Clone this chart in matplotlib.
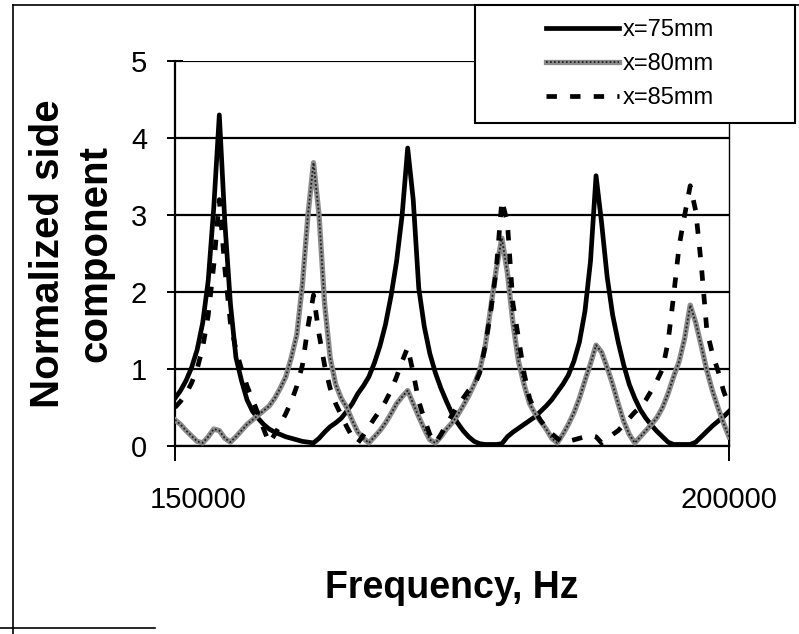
import matplotlib
matplotlib.use("Agg")
import matplotlib.pyplot as plt
import matplotlib.transforms as mtransforms
from matplotlib.patches import Rectangle
from matplotlib.lines import Line2D
from matplotlib.legend_handler import HandlerTuple
import numpy as np

plt.rcParams['font.family'] = ['Liberation Sans', 'DejaVu Sans']

# frequency grid, kHz steps of 0.5 (150 .. 200 kHz)
freq_khz = [150.0, 150.5, 151.0, 151.5, 152.0, 152.5, 153.0, 153.5, 154.0, 154.5,
            155.0, 155.5, 156.0, 156.5, 157.0, 157.5, 158.0, 158.5, 159.0, 159.5,
            160.0, 160.5, 161.0, 161.5, 162.0, 162.5, 163.0, 163.5, 164.0, 164.5,
            165.0, 165.5, 166.0, 166.5, 167.0, 167.5, 168.0, 168.5, 169.0, 169.5,
            170.0, 170.5, 171.0, 171.5, 172.0, 172.5, 173.0, 173.5, 174.0, 174.5,
            175.0, 175.5, 176.0, 176.5, 177.0, 177.5, 178.0, 178.5, 179.0, 179.5,
            180.0, 180.5, 181.0, 181.5, 182.0, 182.5, 183.0, 183.5, 184.0, 184.5,
            185.0, 185.5, 186.0, 186.5, 187.0, 187.5, 188.0, 188.5, 189.0, 189.5,
            190.0, 190.5, 191.0, 191.5, 192.0, 192.5, 193.0, 193.5, 194.0, 194.5,
            195.0, 195.5, 196.0, 196.5, 197.0, 197.5, 198.0, 198.5, 199.0, 199.5,
            200.0]

x75 = [0.62, 0.72, 0.85, 1.02, 1.25, 1.60, 2.15, 3.10, 4.30, 2.90,
       1.85, 1.15, 0.85, 0.60, 0.45, 0.36, 0.28, 0.22, 0.18, 0.15,
       0.12, 0.10, 0.08, 0.06, 0.05, 0.04, 0.10, 0.18, 0.25, 0.30,
       0.36, 0.45, 0.55, 0.68, 0.78, 0.90, 1.08, 1.30, 1.58, 1.95,
       2.40, 3.00, 3.87, 3.20, 2.05, 1.55, 1.20, 0.95, 0.75, 0.58,
       0.42, 0.30, 0.20, 0.12, 0.06, 0.03, 0.02, 0.02, 0.02, 0.03,
       0.12, 0.18, 0.23, 0.28, 0.33, 0.38, 0.45, 0.52, 0.60, 0.70,
       0.80, 0.92, 1.10, 1.35, 1.75, 2.40, 3.51, 2.90, 2.20, 1.70,
       1.35, 1.05, 0.80, 0.62, 0.47, 0.36, 0.27, 0.19, 0.12, 0.05,
       0.02, 0.02, 0.02, 0.02, 0.05, 0.12, 0.19, 0.26, 0.32, 0.38,
       0.45]

x80 = [0.34, 0.28, 0.20, 0.13, 0.06, 0.04, 0.12, 0.22, 0.20, 0.10,
       0.05, 0.12, 0.20, 0.28, 0.34, 0.40, 0.46, 0.52, 0.62, 0.75,
       0.90, 1.15, 1.45, 2.10, 3.00, 3.68, 3.00, 1.85, 1.15, 0.80,
       0.62, 0.50, 0.33, 0.18, 0.10, 0.04, 0.12, 0.20, 0.30, 0.42,
       0.55, 0.64, 0.72, 0.55, 0.38, 0.22, 0.08, 0.04, 0.12, 0.22,
       0.30, 0.40, 0.52, 0.65, 0.80, 0.98, 1.30, 1.80, 2.30, 2.70,
       2.25, 1.60, 1.10, 0.80, 0.55, 0.42, 0.32, 0.22, 0.10, 0.04,
       0.15, 0.28, 0.43, 0.62, 0.85, 1.07, 1.31, 1.22, 1.02, 0.80,
       0.55, 0.32, 0.15, 0.04, 0.12, 0.20, 0.28, 0.37, 0.50, 0.68,
       0.90, 1.10, 1.40, 1.83, 1.60, 1.30, 0.98, 0.72, 0.50, 0.30,
       0.12]

x85 = [0.50, 0.58, 0.68, 0.82, 1.00, 1.28, 1.70, 2.35, 3.20, 2.30,
       1.60, 1.25, 1.00, 0.78, 0.60, 0.42, 0.22, 0.04, 0.15, 0.28,
       0.42, 0.58, 0.78, 1.05, 1.55, 1.96, 1.45, 1.05, 0.75, 0.55,
       0.40, 0.25, 0.12, 0.04, 0.14, 0.25, 0.36, 0.46, 0.58, 0.72,
       0.90, 1.10, 1.28, 0.95, 0.58, 0.35, 0.15, 0.04, 0.15, 0.28,
       0.40, 0.52, 0.62, 0.72, 0.78, 0.95, 1.30, 1.75, 2.30, 3.19,
       2.90, 1.85, 1.40, 0.95, 0.62, 0.45, 0.33, 0.24, 0.16, 0.10,
       0.04, 0.06, 0.08, 0.10, 0.12, 0.14, 0.12, 0.04, 0.10, 0.15,
       0.20, 0.28, 0.36, 0.44, 0.50, 0.60, 0.72, 0.85, 1.00, 1.35,
       1.95, 2.60, 3.00, 3.38, 3.05, 2.35, 1.50, 1.20, 0.98, 0.72,
       0.52]

labels = ["x=75mm", "x=80mm", "x=85mm"]
yticks = [0, 1, 2, 3, 4, 5]
xticks = [150000, 200000]

freq = np.array(freq_khz) * 1000.0

W, H = 799, 634
fig = plt.figure(figsize=(W / 100, H / 100), dpi=100)
ax = fig.add_axes([175 / W, (H - 446) / H, 554 / W, 385 / H])

l75, = ax.plot(freq, x75, color="black", lw=3.4, zorder=3)
g1, = ax.plot(freq, x80, color="#8c8c8c", lw=3.8, zorder=4)
g2, = ax.plot(freq, x80, color="#202020", lw=1.3, ls=(0, (1, 1.2)), zorder=4)
l85, = ax.plot(freq, x85, color="black", lw=3.4, ls=(0, (2.2, 2.8)), zorder=5)

ax.set_xlim(150000, 200000)
ax.set_ylim(0, 5)
ax.set_yticks(yticks)
ax.set_xticks(xticks)
ax.set_xticklabels([str(v) for v in xticks])
ax.yaxis.grid(True, color="black", lw=1.6)
ax.set_axisbelow(True)
ax.spines["top"].set_visible(False)
ax.spines["left"].set_linewidth(1.6)
ax.spines["bottom"].set_linewidth(1.6)
ax.spines["right"].set_linewidth(1.0)
ax.tick_params(axis="y", direction="inout", length=12, width=1.4, pad=14, labelsize=21)
ax.tick_params(axis="x", direction="inout", length=22, width=1.4, pad=18, labelsize=21)

# Excel-like offset of the first x label
lab0 = ax.get_xticklabels()[0]
lab0.set_transform(lab0.get_transform() + mtransforms.ScaledTranslation(23 / 100, 0, fig.dpi_scale_trans))

ax.set_xlabel("Frequency, Hz", fontsize=27, fontweight="bold", labelpad=40)
ax.set_ylabel("Normalized side\ncomponent", fontsize=29, fontweight="bold", labelpad=12,
              linespacing=1.3)

# legend box (opaque, covers the top gridline like in the original)
fig.patches.append(Rectangle((475 / W, 1 - 123 / H), 320 / W, 118 / H, transform=fig.transFigure,
                             facecolor="white", lw=1.5, edgecolor="black", zorder=4))
fig.legend([l75, (g1, g2), l85], labels, loc="center",
           bbox_to_anchor=(630 / W, 1 - 64 / H), frameon=False, fontsize=17,
           handlelength=3.1, handletextpad=0.15, labelspacing=0.5,
           handler_map={tuple: HandlerTuple(ndivide=1)})

# outer frame of the scanned chart
fig.add_artist(Line2D([13 / W, 13 / W], [0, 1 - 5 / H], transform=fig.transFigure, color="black", lw=1.2))
fig.add_artist(Line2D([13 / W, 1.0], [1 - 5 / H, 1 - 5 / H], transform=fig.transFigure, color="black", lw=1.2))
fig.add_artist(Line2D([0, 155 / W], [1 - 628 / H, 1 - 628 / H], transform=fig.transFigure, color="black", lw=1.2))

fig.savefig("out.png", dpi=100)
